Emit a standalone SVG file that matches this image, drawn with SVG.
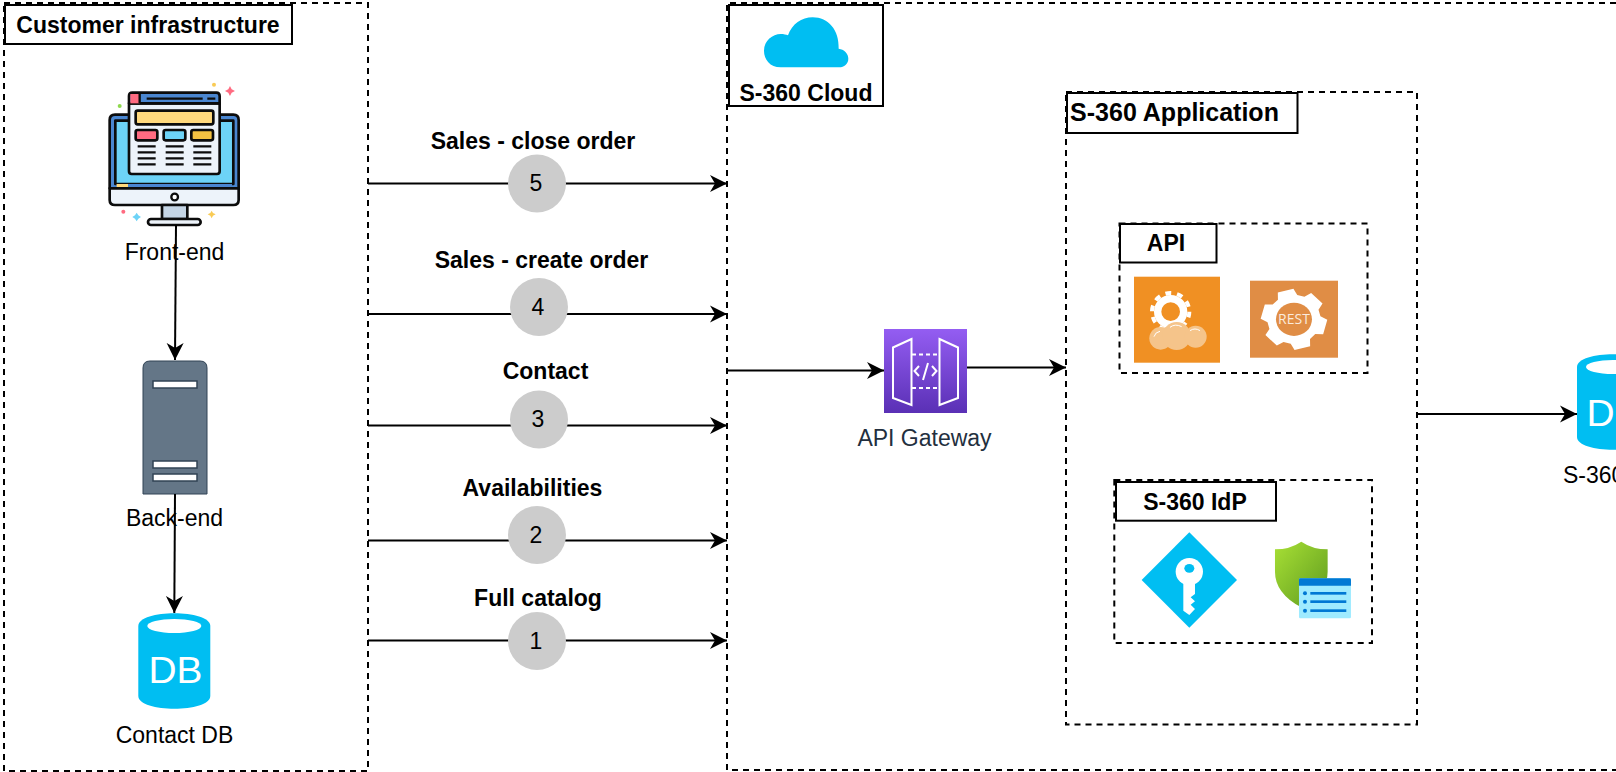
<svg xmlns="http://www.w3.org/2000/svg" width="1616" height="772" viewBox="0 0 1616 772">
<style>
text{font-family:"Liberation Sans",Arial,sans-serif;fill:#000}
.b{font-weight:700;font-size:23px;text-anchor:middle}
.n{font-size:23px;text-anchor:middle}
.d{fill:none;stroke:#000;stroke-width:2;stroke-dasharray:6 5}
.t{fill:#fff;stroke:#000;stroke-width:2}
.c{fill:none;stroke:#000;stroke-width:2;marker-end:url(#a)}
.o{fill:#CCCCCC}
.k{font-size:23px;text-anchor:middle}
.i{stroke:#0c0c0c;stroke-width:8;stroke-linejoin:round}
.l{fill:none;stroke:#0c0c0c;stroke-width:7}
.g{font-size:36px;fill:#fff;text-anchor:middle}
</style>
<defs>
<marker id="a" markerUnits="userSpaceOnUse" markerWidth="18" markerHeight="18" refX="17" refY="9" orient="auto"><path d="M0 0.5L17 9L0 17.500L5 9Z" fill="#000"/></marker>
<linearGradient id="gw" x1="0" y1="0" x2="0" y2="1"><stop offset="0" stop-color="#945DF2"/><stop offset="1" stop-color="#5A30B5"/></linearGradient>
<linearGradient id="sh" x1="0" y1="0" x2="1" y2="1"><stop offset="0" stop-color="#A8E035"/><stop offset="1" stop-color="#5E9A1E"/></linearGradient>
<g id="db"><path d="M0 13C0 -4 72 -4 72 13V83C72 100 0 100 0 83Z" fill="#00BEF2"/><ellipse cx="36" cy="13" rx="27" ry="7" fill="#fff"/></g>
</defs>

<g id="customer-infrastructure">
<rect class="d" x="4" y="3" width="364" height="768"/>
<rect class="t" x="5" y="5" width="287" height="39"/>
<text class="b" x="148" y="32.500">Customer infrastructure</text>
</g>

<g id="s360-cloud-boundary">
<path class="d" d="M1616 3H727V770H1616"/>
</g>
<g id="s360-cloud-label">
<rect class="t" x="729" y="5" width="154" height="101"/>
<path transform="translate(700 0) scale(.3333)" fill="#00BEF2" d="M242 202C210 202 192 178 192 152C192 122 218 102 242 102C252 102 258 104 264 106C276 72 305 52 338 52C385 52 418 90 416 146C432 148 445 160 445 176C445 192 432 202 418 202Z"/>
<text class="b" x="806" y="100.500">S-360 Cloud</text>
</g>

<g id="front-end">
<g transform="translate(90 70) scale(.3333)">
<path class="i" fill="#4A86D0" d="M59 355V150Q59 134 75 134H430Q446 134 446 150V355Z"/>
<rect class="i" fill="#6DD3F7" x="76" y="152" width="354" height="190"/>
<rect x="80" y="342" width="346" height="12" fill="#4A86D0"/>
<rect x="80" y="342" width="34" height="12" fill="#FFD97D"/>
<path class="i" fill="#EDF3FA" d="M59 355H446V390Q446 405 430 405H75Q59 405 59 390Z"/>
<circle cx="254" cy="381" r="10" fill="#fff" stroke="#0c0c0c" stroke-width="7"/>
<rect class="i" fill="#C5D5E5" x="216" y="405" width="76" height="42"/>
<rect class="i" fill="#EDF3FA" x="174" y="447" width="158" height="18" rx="9"/>
<path class="i" fill="#EDF3FA" d="M117 100H389V304Q389 312 381 312H125Q117 312 117 304Z"/>
<path class="i" fill="#4A86D0" d="M117 100V78Q117 68 127 68H379Q389 68 389 78V100Z"/>
<rect x="121" y="72" width="28" height="28" fill="#FF6B81"/>
<path d="M149 68V100M170 86H338M352 86H376" stroke="#0c0c0c" stroke-width="7" fill="none"/>
<rect class="i" fill="#FFD97D" x="137" y="122" width="233" height="41" rx="6"/>
<rect class="i" fill="#FF6B81" x="137" y="180" width="65" height="31" rx="6"/>
<rect class="i" fill="#6DD3F7" x="221" y="180" width="65" height="31" rx="6"/>
<rect class="i" fill="#F5C242" x="304" y="180" width="65" height="31" rx="6"/>
<path class="l" d="M143 229H197M143 247H197M143 265H197M143 283H197M227 229H281M227 247H281M227 265H281M227 283H281M310 229H364M310 247H364M310 265H364M310 283H364"/>
<circle cx="372" cy="44" r="6" fill="#F9CB55"/>
<circle cx="89" cy="108" r="6" fill="#8FD94F"/>
<circle cx="100" cy="425" r="6" fill="#FF6B81"/>
<path d="M420 48L425 58L435 63L425 68L420 78L415 68L405 63L415 58Z" fill="#FF6B81"/>
<path d="M140 428L145 436L153 441L145 446L140 454L135 446L127 441L135 436Z" fill="#6DD3F7"/>
<path d="M365 422L369 429L377 433L369 437L365 445L361 437L353 433L361 429Z" fill="#F9CB55"/>
</g>
<text class="n" x="174.500" y="260">Front-end</text>
</g>

<g id="back-end">
<path d="M150 361H200Q207 361 207 368V494H143V368Q143 361 150 361Z" fill="#647687" stroke="#314354" stroke-width="1"/>
<rect x="153" y="381" width="44" height="7" fill="#fff" stroke="#314354" stroke-width="1.500"/>
<rect x="153" y="461" width="44" height="7" fill="#fff" stroke="#314354" stroke-width="1.500"/>
<rect x="153" y="474" width="44" height="7" fill="#fff" stroke="#314354" stroke-width="1.500"/>
<text class="n" x="174.500" y="526">Back-end</text>
</g>

<g id="contact-db">
<use href="#db" x="138.300" y="613"/>
<text class="g" x="175.500" y="683" textLength="54" lengthAdjust="spacingAndGlyphs">DB</text>
<text class="n" x="174.500" y="743">Contact DB</text>
</g>

<g id="connectors">
<path class="c" d="M176 225L175 360"/>
<path class="c" d="M175 494L174.300 613"/>
<path class="c" d="M368 183.500H727"/>
<path class="c" d="M368 314H727"/>
<path class="c" d="M368 425.500H727"/>
<path class="c" d="M368 540.500H727"/>
<path class="c" d="M368 640.500H727"/>
<path class="c" d="M727 370.500H884"/>
<path class="c" d="M967 367.500H1066"/>
<path class="c" d="M1417 414H1577"/>
</g>

<g id="step-5"><circle class="o" cx="537" cy="183.500" r="29"/><text class="k" x="536" y="191">5</text><text class="b" x="533" y="149">Sales - close order</text></g>
<g id="step-4"><circle class="o" cx="539" cy="307" r="29"/><text class="k" x="538" y="314.500">4</text><text class="b" x="541.500" y="267.500">Sales - create order</text></g>
<g id="step-3"><circle class="o" cx="539" cy="419.500" r="29"/><text class="k" x="538" y="427">3</text><text class="b" x="545.500" y="378.500">Contact</text></g>
<g id="step-2"><circle class="o" cx="537" cy="535" r="29"/><text class="k" x="536" y="542.500">2</text><text class="b" x="532.500" y="496">Availabilities</text></g>
<g id="step-1"><circle class="o" cx="537" cy="641" r="29"/><text class="k" x="536" y="648.500">1</text><text class="b" x="538" y="605.500">Full catalog</text></g>

<g id="api-gateway">
<rect x="884" y="329" width="83" height="84" fill="url(#gw)"/>
<g fill="none" stroke="#fff" stroke-width="2">
<path d="M911.500 339L893 347.500V398L911.500 405Z"/>
<path d="M939.500 339L958 347.500V398L939.500 405Z"/>
<path d="M912 354.500H939M912 388H939" stroke-dasharray="4 3"/>
<path d="M919 366L914.500 371L919 376M932 366L936.500 371L932 376M928 363L923 380"/>
</g>
<text x="924.500" y="446" font-size="23" text-anchor="middle" style="fill:#232F3E">API Gateway</text>
</g>

<g id="s360-application">
<rect class="d" x="1066" y="92" width="351" height="632.500"/>
<rect class="t" x="1067" y="93" width="230.500" height="40"/>
<text x="1174.500" y="120.500" font-size="25" font-weight="700" text-anchor="middle">S-360 Application</text>
</g>

<g id="api">
<rect class="d" x="1119.500" y="223.500" width="248" height="149.500"/>
<rect class="t" x="1120" y="224" width="96.500" height="38.500"/>
<text class="b" x="1166" y="250.500">API</text>
<rect x="1134" y="276.700" width="86" height="86" fill="#F09023"/>
<g transform="translate(1080 210) scale(.3333)">
<circle cx="272" cy="305" r="56" fill="none" stroke="#fff" stroke-width="12" stroke-dasharray="17.600 17.590"/>
<circle cx="272" cy="305" r="39" fill="none" stroke="#fff" stroke-width="22"/>
<g fill="#F5C48A">
<circle cx="242" cy="385" r="34"/><circle cx="290" cy="378" r="42"/><circle cx="347" cy="380" r="33"/>
</g>
<path d="M222 380Q226 366 240 364M270 352Q285 340 305 350M330 362Q345 352 360 362" fill="none" stroke="#fff" stroke-width="3"/>
</g>
<rect x="1250" y="280.700" width="88" height="77" fill="#E08D45"/>
<g transform="translate(1080 210) scale(.3333) translate(642 328) scale(1 .92) translate(-642 -328)">
<path fill="#fff" d="M721.400 318.200L742 329.700L729.500 376.500L705.900 376.100L690.100 391.900L690.500 415.500L643.700 428L632.200 407.400L610.700 401.600L590.500 413.700L556.300 379.500L568.400 359.300L562.600 337.800L542 326.300L554.500 279.500L578.100 279.900L593.900 264.100L593.500 240.500L640.300 228L651.800 248.600L673.300 254.400L693.500 242.300L727.700 276.500L715.600 296.700Z"/>
<ellipse cx="642" cy="328" rx="54" ry="54" fill="#E08D45"/>
</g>
<text x="1294" y="324" font-size="14" text-anchor="middle" style="fill:#FBEBDD;font-family:'Open Sans',sans-serif">REST</text>
</g>

<g id="s360-idp">
<rect class="d" x="1114.300" y="480" width="257.700" height="163"/>
<rect class="t" x="1116" y="482" width="160" height="38.700"/>
<text class="b" x="1195" y="509.500">S-360 IdP</text>
<g transform="translate(1075 460) scale(.3333)">
<path d="M343 217L486 360L343 503L200 360Z" fill="#00BEF2"/>
<circle cx="343" cy="335" r="41" fill="#fff"/>
<ellipse cx="343" cy="325" rx="15" ry="13" fill="#00BEF2"/>
<path d="M325 365H360V402L347 412L360 424L347 434L360 447L343 465L325 452Z" fill="#fff"/>
<path d="M600 268Q645 268 679 245Q713 268 758 268V335Q758 400 679 442Q600 400 600 335Z" fill="url(#sh)"/>
<rect x="672" y="355" width="156" height="120" rx="4" fill="#9FEBFF"/>
<path d="M672 377V359Q672 355 676 355H824Q828 355 828 359V377Z" fill="#0078D4"/>
<g fill="#0078D4"><circle cx="690" cy="400" r="6"/><circle cx="690" cy="425" r="6"/><circle cx="690" cy="452" r="6"/>
<rect x="706" y="396" width="108" height="8"/><rect x="706" y="421" width="108" height="8"/><rect x="706" y="448" width="108" height="8"/></g>
</g>
</g>

<g id="s360-db">
<use href="#db" x="1577" y="354"/>
<text class="g" x="1613.500" y="426" textLength="54" lengthAdjust="spacingAndGlyphs">DB</text>
<text x="1563" y="483" font-size="23">S-360 DB</text>
</g>
</svg>
